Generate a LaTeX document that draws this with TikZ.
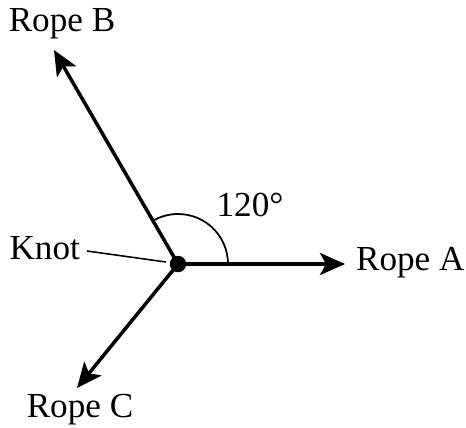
\documentclass[tikz,border=0pt]{standalone}
\usepackage{fontspec}
\setmainfont{Liberation Serif}
\usetikzlibrary{arrows.meta}

\begin{document}
\begin{tikzpicture}[x=0.02cm, y=-0.02cm,
  % Node Styles
  knotdot/.style={circle, fill=black, inner sep=0pt, minimum size=0.33cm},
  ropelabel/.style={font=\fontsize{20}{23}\selectfont, inner sep=1pt},
  % Arrow Styles
  ropearrow/.style={-{Stealth[length=5mm, width=4.4mm, inset=1.2mm]}, line width=2pt},
  leader/.style={line width=0.9pt}
]
\useasboundingbox (0,0) rectangle (466,427);

% Diagram for: forces on a knot

\node[knotdot] (K) at (178,264) {};
\coordinate (A_tip) at (345,264);
\coordinate (B_tip) at (54,50);
\coordinate (C_tip) at (77,388);

\draw[ropearrow] (K.center) -- (A_tip);
\draw[ropearrow] (K.center) -- (B_tip);
\draw[ropearrow] (K.center) -- (C_tip);

\draw[line width=1pt] (K.center) ++(50,0) arc[start angle=0, end angle=-120, radius=50];

\node[ropelabel, anchor=west] (A_lab) at (354,263) {Rope A};
\node[ropelabel] (B_lab) at (62,24) {Rope B};
\node[ropelabel] (C_lab) at (80,410) {Rope C};
\node[ropelabel] (angle_lab) at (250,205) {120°};
\node[ropelabel, anchor=east] (K_lab) at (82,248) {Knot};
\coordinate (K_end) at (166,262);
\draw[leader] (K_lab.east) ++(5,3) -- (K_end);

\end{tikzpicture}
\end{document}
